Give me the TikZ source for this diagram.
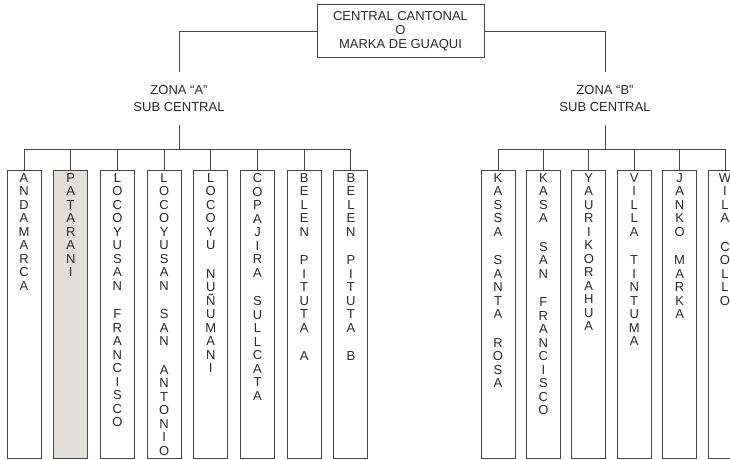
\documentclass[tikz,border=0pt]{standalone}
\usepackage{fontspec}
\setmainfont{Liberation Sans}
\usetikzlibrary{positioning}
\definecolor{lineGray}{RGB}{70,70,70}
\definecolor{textGray}{RGB}{40,40,40}
\definecolor{leafFill}{RGB}{226,223,219}
% letters stacked one above the other, from the top of the box
\newcommand{\vword}[1]{\parbox[t][282pt][t]{30pt}{\centering #1}}

\begin{document}
\begin{tikzpicture}[
    x=1pt, y=-1pt,
    node distance=11.7pt,
    line/.style={draw=lineGray, line width=1pt},
    head/.style={rectangle, draw=lineGray, line width=1pt, text=textGray, minimum width=167pt, minimum height=53pt, align=center, font=\fontsize{13}{14}\selectfont},
    zone/.style={text=textGray, align=center, inner ysep=13pt, font=\fontsize{13}{17}\selectfont},
    leaf/.style={rectangle, draw=lineGray, line width=1pt, text=textGray, minimum width=34pt, minimum height=288pt, inner xsep=0pt, inner ysep=3pt, font=\fontsize{13}{13.5}\selectfont, anchor=north}
]
    \useasboundingbox (0,0) rectangle (730,459);
    \clip (0,0) rectangle (730,459);

    \node[head] (top) at (400.5,31) {CENTRAL CANTONAL\\O\\MARKA DE GUAQUI};
    \node[zone] (zonaA) at (179,98.5) {ZONA ``A''\\SUB CENTRAL};
    \node[zone] (zonaB) at (605,98.5) {ZONA ``B''\\SUB CENTRAL};

    \draw[line] (top.west) -| (zonaA.north);
    \draw[line] (top.east) -| (zonaB.north);

    % zona A
    \node[leaf] (a1) at (24,170) {\vword{A\\N\\D\\A\\M\\A\\R\\C\\A}};
    \node[leaf, fill=leafFill, right=of a1] (a2) {\vword{P\\A\\T\\A\\R\\A\\N\\I}};
    \node[leaf, right=of a2] (a3) {\vword{L\\O\\C\\O\\Y\\U\\S\\A\\N\\[15pt]F\\R\\A\\N\\C\\I\\S\\C\\O}};
    \node[leaf, right=of a3] (a4) {\vword{L\\O\\C\\O\\Y\\U\\S\\A\\N\\[15pt]S\\A\\N\\[15pt]A\\N\\T\\O\\N\\I\\O}};
    \node[leaf, right=of a4] (a5) {\vword{L\\O\\C\\O\\Y\\U\\[15pt]N\\U\\Ñ\\U\\M\\A\\N\\I}};
    \node[leaf, right=of a5] (a6) {\vword{C\\O\\P\\A\\J\\I\\R\\A\\[15pt]S\\U\\L\\L\\C\\A\\T\\A}};
    \node[leaf, right=of a6] (a7) {\vword{B\\E\\L\\E\\N\\[15pt]P\\I\\T\\U\\T\\A\\[15pt]A}};
    \node[leaf, right=of a7] (a8) {\vword{B\\E\\L\\E\\N\\[15pt]P\\I\\T\\U\\T\\A\\[15pt]B}};

    % zona B
    \node[leaf] (b1) at (498,170) {\vword{K\\A\\S\\S\\A\\[15pt]S\\A\\N\\T\\A\\[15pt]R\\O\\S\\A}};
    \node[leaf, right=10.4pt of b1] (b2) {\vword{K\\A\\S\\A\\[15pt]S\\A\\N\\[15pt]F\\R\\A\\N\\C\\I\\S\\C\\O}};
    \node[leaf, right=10.4pt of b2] (b3) {\vword{Y\\A\\U\\R\\I\\K\\O\\R\\A\\H\\U\\A}};
    \node[leaf, right=10.4pt of b3] (b4) {\vword{V\\I\\L\\L\\A\\[15pt]T\\I\\N\\T\\U\\M\\A}};
    \node[leaf, right=10.4pt of b4] (b5) {\vword{J\\A\\N\\K\\O\\[15pt]M\\A\\R\\K\\A}};
    \node[leaf, right=10.4pt of b5] (b6) {\vword{W\\I\\L\\A\\[15pt]C\\O\\L\\L\\O}};

    \coordinate (busA) at (179,149);
    \coordinate (busB) at (605,149);
    \draw[line] (zonaA.south) -- (busA);
    \draw[line] (zonaB.south) -- (busB);
    \draw[line] (a1.north |- busA) -- (a8.north |- busA);
    \draw[line] (b1.north |- busB) -- (b6.north |- busB);
    \foreach \i in {1,...,8} \draw[line] (a\i.north |- busA) -- (a\i.north);
    \foreach \i in {1,...,6} \draw[line] (b\i.north |- busB) -- (b\i.north);
\end{tikzpicture}
\end{document}
